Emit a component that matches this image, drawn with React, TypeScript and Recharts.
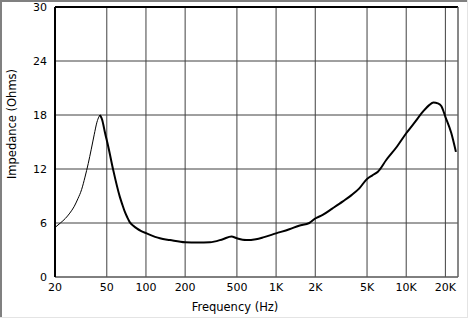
import React from 'react';
import { LineChart, Line, XAxis, YAxis, CartesianGrid, ReferenceLine } from 'recharts';

// Thin segment: 20 Hz up to the bass resonance peak
const lowFreq = [20, 22, 24, 26, 28, 30, 32, 34, 36, 38, 40, 42, 43.5, 44.3];
const lowZ = [5.5, 6.0, 6.5, 7.1, 7.8, 8.7, 9.7, 11.1, 12.6, 14.2, 15.8, 17.2, 17.8, 18.0];

// Thick segment: from the peak to the top of the band
const highFreq = [
  44.3, 46, 48.5, 51.3, 56, 63, 66, 69, 72, 75, 80, 85, 92, 101, 128, 153, 200, 250, 310, 390, 454,
  500, 590, 700, 796, 1000, 1264, 1500, 1800, 2000, 2280, 2700, 3260, 3800, 4360, 5000, 5500, 6060,
  7020, 8500, 10000, 11500, 13500, 15000, 16200, 17500, 18600, 20000, 22200, 24100,
];
const highZ = [
  18.0, 17.5, 16.0, 14.5, 11.9, 8.9, 8.0, 7.2, 6.6, 6.1, 5.7, 5.4, 5.1, 4.85, 4.3, 4.1, 3.85, 3.82,
  3.85, 4.2, 4.5, 4.3, 4.1, 4.2, 4.4, 4.85, 5.3, 5.7, 6.0, 6.5, 6.9, 7.6, 8.4, 9.1, 9.85, 10.9, 11.3,
  11.7, 13.0, 14.5, 15.97, 17.1, 18.4, 19.1, 19.4, 19.3, 19.0, 17.8, 16.0, 13.9,
];

const xTicks = [20, 50, 100, 200, 500, 1000, 2000, 5000, 10000, 20000];
const yTicks = [0, 6, 12, 18, 24, 30];
const xTitle = 'Frequency (Hz)';
const yTitle = 'Impedance (Ohms)';

const lowData = lowFreq.map((f, i) => ({ f, z: lowZ[i] }));
const highData = highFreq.map((f, i) => ({ f, z: highZ[i] }));

const fmtFreq = (v: number) => (v >= 1000 ? `${v / 1000}K` : `${v}`);

const FONT = 'DejaVu Sans';
const tickStyle = { fontFamily: FONT, fontSize: 11, fill: '#000' };

export default function App() {
  return (
    <div
      style={{
        position: 'absolute',
        left: 0,
        top: 0,
        width: 470,
        height: 320,
        background: '#ffffff',
        overflow: 'hidden',
      }}
    >
      <div style={{ position: 'absolute', left: 0, top: 0, width: 2, height: 318, background: '#808080' }} />
      <div style={{ position: 'absolute', left: 0, top: 0, width: 468, height: 2, background: '#808080' }} />
      <div style={{ position: 'absolute', left: 467, top: 0, width: 1, height: 318, background: '#e4e4e4' }} />
      <div style={{ position: 'absolute', left: 0, top: 317, width: 468, height: 1, background: '#e4e4e4' }} />
      <div style={{ position: 'absolute', left: 0, top: 0 }}>
        <LineChart width={470} height={320} margin={{ top: 7, right: 12, bottom: 7, left: 0 }}>
          <CartesianGrid stroke="#404040" strokeWidth={1} />
          <XAxis
            dataKey="f"
            type="number"
            scale="log"
            domain={[20, 25000]}
            ticks={xTicks}
            tickFormatter={fmtFreq}
            allowDataOverflow
            tickLine={false}
            tickMargin={0}
            height={36}
            axisLine={{ stroke: '#606060', strokeWidth: 1 }}
            tick={tickStyle}
            interval={0}
          />
          <YAxis
            type="number"
            domain={[0, 30]}
            ticks={yTicks}
            width={55}
            tickLine={false}
            tickMargin={2}
            axisLine={{ stroke: '#000', strokeWidth: 2 }}
            tick={tickStyle}
            interval={0}
          />
          <ReferenceLine y={30} stroke="#000" strokeWidth={2} />
          <ReferenceLine x={25000} stroke="#707070" strokeWidth={1} />
          <Line
            data={lowData}
            dataKey="z"
            type="monotone"
            stroke="#000"
            strokeWidth={1}
            dot={false}
            isAnimationActive={false}
          />
          <Line
            data={highData}
            dataKey="z"
            type="monotone"
            stroke="#000"
            strokeWidth={2}
            dot={false}
            isAnimationActive={false}
          />
          <text
            x={235}
            y={307}
            textAnchor="middle"
            dominantBaseline="central"
            style={{ fontFamily: FONT, fontSize: 11.5, fill: '#000' }}
          >
            {xTitle}
          </text>
          <text
            x={12}
            y={124}
            transform="rotate(-90 12 124)"
            textAnchor="middle"
            dominantBaseline="central"
            style={{ fontFamily: FONT, fontSize: 11.5, fill: '#000' }}
          >
            {yTitle}
          </text>
        </LineChart>
      </div>
    </div>
  );
}
